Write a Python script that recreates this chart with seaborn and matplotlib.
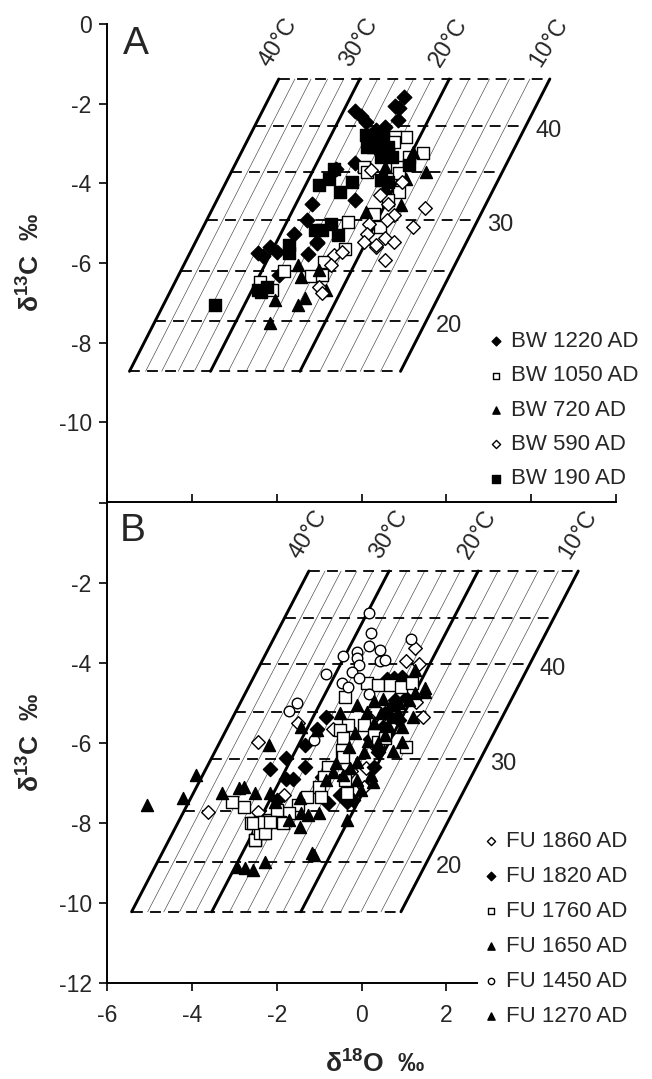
import numpy as np
import pandas as pd
import matplotlib.pyplot as plt
import seaborn as sns

sns.set_style('ticks')
plt.rcParams['font.family'] = ['Liberation Sans', 'DejaVu Sans']
plt.rcParams['axes.unicode_minus'] = False
plt.rcParams['mathtext.fontset'] = 'custom'
plt.rcParams['mathtext.rm'] = 'Liberation Sans'
plt.rcParams['mathtext.bf'] = 'Liberation Sans:bold'

temps = ['40°C', '30°C', '20°C', '10°C']
level_labels = ['40', '30', '20']

# ---- panel A grid ----
a_top_y, a_bot_y = -1.38, -8.72
a_shift = -3.52
a_iso_top = [-1.95, -0.04, 2.07, 4.44]
a_thin_top = [-1.57, -1.19, -0.80, -0.42, 0.38, 0.80, 1.23, 1.65, 2.54, 3.02, 3.49, 3.97]
a_levels = [-1.38, -2.56, -3.72, -4.92, -6.20, -7.46, -8.72]
a_label_idx = [1, 3, 5]

# ---- panel B grid ----
b_top_y, b_bot_y = -1.70, -10.22
b_shift = -4.18
b_iso_top = [-1.24, 0.65, 2.75, 5.11]
b_thin_top = [-0.86, -0.48, -0.11, 0.27, 1.07, 1.49, 1.91, 2.33, 3.22, 3.69, 4.17, 4.64]
b_levels = [-1.70, -2.87, -4.03, -5.23, -6.40, -7.70, -8.97, -10.22]
b_label_idx = [2, 4, 6]

# ---- panel A data ----
bw1220_x = [1.0, 0.78, 0.89, -0.15, -0.02, 0.1, 0.86, 0.55, -0.15, -0.6, -0.15, -1.17, -1.29, -1.6,
            -1.05, -2.44, -2.32, -2.15, -1.99, -1.25, -1.05, -1.95, 0.35]
bw1220_y = [-1.83, -2.06, -2.12, -2.18, -2.31, -2.45, -2.41, -2.58, -3.5, -3.63, -4.42, -4.51, -4.93, -5.26,
            -5.47, -5.76, -5.83, -5.61, -5.72, -5.78, -5.51, -6.31, -2.65]
bw1050_x = [1.04, 0.8, 0.76, 1.45, 1.12, 0.84, 0.88, 0.88, 0.06, 0.26, 0.14, -0.31, 0.63, 0.3, 0.43, 0.22,
            -0.39, -0.88, -1.82, -1.2, -0.92, -2.4, -2.11]
bw1050_y = [-2.83, -2.83, -2.96, -3.25, -3.33, -3.58, -3.75, -4.21, -3.58, -3.08, -3.71, -4.97, -4.42, -4.76,
            -5.09, -2.83, -5.66, -5.97, -6.21, -6.33, -6.31, -6.47, -6.67]
bw720_x = [1.21, 0.55, 1.53, 0.92, 0.1, 0.47, 1.04, 0.55, -1.5, -1.42, -2.03, -1.5, -1.33, -2.15, -1.01, -0.84]
bw720_y = [-3.21, -3.58, -3.71, -4.55, -4.71, -3.92, -3.88, -4.09, -6.05, -6.35, -6.92, -7.06, -6.89, -7.5,
           -6.18, -6.68]
bw590_x = [0.22, 0.96, 1.49, 1.21, 0.63, 0.76, 0.59, 0.18, 0.14, 0.55, 0.76, 0.35, 0.43, -0.64, -0.47, -0.72,
           -1.01, -0.92, 0.35, 0.55, 0.06]
bw590_y = [-3.67, -3.96, -4.63, -5.09, -4.51, -4.8, -4.93, -5.01, -5.26, -5.36, -5.47, -5.59, -4.3, -5.8,
           -5.72, -6.05, -6.6, -6.75, -5.55, -5.93, -5.47]
bw190_x = [0.1, 0.3, 0.51, 0.14, 0.43, 0.63, 0.47, 0.71, 1.12, -0.64, -0.76, -1.01, -0.51, -0.23, -1.09, -0.92,
           -0.72, -0.55, 0.47, 0.63, -1.7, -1.7, -3.46, -2.44, -2.23, -2.36]
bw190_y = [-2.79, -2.79, -2.87, -3.08, -3.12, -3.08, -3.33, -3.33, -3.54, -3.63, -3.88, -4.05, -4.21, -3.96,
           -5.18, -5.18, -5.01, -5.3, -3.92, -3.96, -5.55, -5.76, -7.06, -6.68, -6.6, -6.73]

# ---- panel B data ----
fu1860_x = [1.25, 1.04, 1.35, -2.44, -1.5, -3.63, -2.44, -1.82, -0.68, 1.45, 1.29, 0.22, 0.1, 0.75, 0.35,
            -0.25, 0.05]
fu1860_y = [-3.63, -3.94, -4.03, -5.97, -5.49, -7.72, -7.72, -7.3, -5.66, -5.34, -4.97, -5.43, -6.63, -5.1,
            -6.1, -6.7, -7.1]
fu1820_x = [0.96, 0.59, 0.76, -0.84, -1.05, -1.33, -1.78, -1.33, -2.15, -1.78, -1.62, -1.99, -0.92, -0.51,
            -0.8, -0.35, -0.19, 0.39, 0.63, 0.88, 0.55, 0.8, 1.04, 0.2, 0.5, 0.3]
fu1820_y = [-4.34, -4.41, -4.38, -5.34, -5.66, -6.05, -6.38, -6.61, -6.66, -6.91, -6.91, -7.43, -6.84, -7.3,
            -7.51, -7.47, -7.43, -6.22, -5.76, -5.43, -5.26, -4.93, -4.88, -5.9, -5.6, -6.6]
fu1760_x = [0.14, 0.39, 0.67, 0.92, 1.2, -0.39, -0.31, -0.51, -0.43, -0.47, -0.43, -0.8, -0.88, -1.01, -0.96,
            -1.29, -1.5, -1.7, -1.91, -2.19, -2.4, -2.6, -2.44, -2.32, -2.52, -1.99, -2.77, -3.05, 1.04, 0.06,
            0.3, 0.39, 0.55, -0.39, -0.35, -2.51, -2.39, -2.27, -2.55, -2.31, -2.16, -1.84]
fu1760_y = [-4.51, -4.55, -4.55, -4.59, -4.51, -4.84, -5.55, -5.68, -5.88, -6.17, -6.34, -6.59, -6.84, -7.09,
            -7.34, -7.34, -7.55, -7.76, -7.97, -7.93, -7.97, -8.01, -8.22, -8.26, -8.43, -7.68, -7.59, -7.47,
            -6.09, -5.55, -5.8, -5.97, -5.88, -6.93, -7.26, -8.42, -8.26, -8.26, -8.01, -7.97, -7.97, -8.01]
fu1650_x = [-5.06, -4.2, -3.91, -3.3, -2.89, -2.77, -2.52, -2.19, -2.15, -2.03, -1.46, -1.7, -1.42, -1.25,
            -1.46, -1.01, -1.17, -0.35, -2.94, -2.75, -2.55, -2.27, -1.13, -0.84, -0.43]
fu1650_y = [-7.55, -7.38, -6.8, -7.26, -7.13, -7.09, -7.26, -6.05, -7.26, -7.47, -7.38, -7.93, -7.76, -7.8,
            -8.09, -7.76, -8.76, -7.93, -9.09, -9.13, -9.18, -8.97, -8.8, -6.93, -6.8]
fu1450_x = [0.18, 0.22, 0.18, 0.43, -0.1, -0.43, -0.1, 0.43, 0.55, -0.06, -0.23, -0.06, -0.84, -0.47, -0.31,
            1.16, -1.7, -1.51, -1.13, 0.18]
fu1450_y = [-2.76, -3.26, -3.58, -3.68, -3.72, -3.82, -3.88, -3.95, -3.93, -4.05, -4.22, -4.38, -4.28, -4.49,
            -4.59, -3.41, -5.19, -4.99, -5.93, -4.78]
fu1270_x = [-1.42, -1.05, -0.11, -0.51, -0.15, 0.14, 0.3, 0.47, 0.71, 0.88, 1.12, 1.25, 1.49, 1.21, 0.96, 0.96,
            0.63, 0.39, 0.06, -0.11, -0.27, -0.6, -0.68, -0.11, 0.22, 0.26, -0.02, 1.25, 1.49, 0.5, 0.7, 0.3,
            0.85, 0.55, 0.15, -0.3, 0.75]
fu1270_y = [-5.59, -5.68, -5.05, -5.26, -5.76, -5.22, -5.51, -5.26, -5.34, -5.01, -4.93, -4.76, -4.72, -5.34,
            -5.97, -5.59, -5.55, -6.01, -6.22, -6.47, -6.63, -6.51, -6.72, -6.93, -6.8, -6.97, -7.18, -4.18,
            -4.63, -4.9, -5.05, -4.95, -5.25, -5.8, -5.95, -6.1, -6.2]

series_a = [
    ('BW 1220 AD', bw1220_x, bw1220_y, 'D', 'black', 55),
    ('BW 1050 AD', bw1050_x, bw1050_y, 's', 'white', 65),
    ('BW 720 AD', bw720_x, bw720_y, '^', 'black', 75),
    ('BW 590 AD', bw590_x, bw590_y, 'D', 'white', 48),
    ('BW 190 AD', bw190_x, bw190_y, 's', 'black', 72),
]
series_b = [
    ('FU 1860 AD', fu1860_x, fu1860_y, 'D', 'white', 48),
    ('FU 1820 AD', fu1820_x, fu1820_y, 'D', 'black', 52),
    ('FU 1760 AD', fu1760_x, fu1760_y, 's', 'white', 65),
    ('FU 1650 AD', fu1650_x, fu1650_y, '^', 'black', 75),
    ('FU 1450 AD', fu1450_x, fu1450_y, 'o', 'white', 58),
    ('FU 1270 AD', fu1270_x, fu1270_y, '^', 'black', 75),
]


def draw_grid(ax, iso_top, thin_top, top_y, bot_y, shift, levels, label_idx):
    for x0 in thin_top:
        ax.plot([x0, x0 + shift], [top_y, bot_y], color='#444444', lw=0.45, zorder=1)
    for y in levels:
        f = (y - top_y) / (bot_y - top_y)
        ax.plot([iso_top[0] + f * shift, iso_top[-1] + f * shift], [y, y], color='black',
                lw=1.3, dashes=(6, 4), zorder=2)
    for x0, t in zip(iso_top, temps):
        ax.plot([x0, x0 + shift], [top_y, bot_y], color='black', lw=2.1, zorder=3)
        ax.text(x0 - 0.12, top_y + 0.2, t, rotation=58, rotation_mode='anchor',
                ha='left', va='bottom', fontsize=17)
    for i, lab in zip(label_idx, level_labels):
        y = levels[i]
        f = (y - top_y) / (bot_y - top_y)
        ax.text(iso_top[-1] + f * shift + 0.22, y - 0.12, lab, ha='left', va='center', fontsize=17)


def draw_points(ax, series):
    for label, xs, ys, marker, face, size in series:
        df = pd.DataFrame({'d18O': xs, 'd13C': ys})
        sns.scatterplot(data=df, x='d18O', y='d13C', marker=marker, s=size, facecolor=face,
                        edgecolor='black', linewidth=1.0, label=label, ax=ax, zorder=4)


fig = plt.figure(figsize=(6.52, 10.79), dpi=100)
W, H = 652, 1079
ax1 = fig.add_axes([107 / W, 1 - 502 / H, 509 / W, 478 / H])
ax2 = fig.add_axes([107 / W, 1 - 983 / H, 509 / W, 480 / H])

draw_grid(ax1, a_iso_top, a_thin_top, a_top_y, a_bot_y, a_shift, a_levels, a_label_idx)
draw_grid(ax2, b_iso_top, b_thin_top, b_top_y, b_bot_y, b_shift, b_levels, b_label_idx)
draw_points(ax1, series_a)
draw_points(ax2, series_b)

for ax in (ax1, ax2):
    ax.set_xlim(-6, 6)
    ax.set_ylim(-12, 0)
    ax.set_xlabel('')
    ax.set_ylabel('')
    for s in ('top', 'right'):
        ax.spines[s].set_visible(False)
    for s in ('left', 'bottom'):
        ax.spines[s].set_linewidth(1.4)
        ax.spines[s].set_color('black')

# panel A axes
ax1.set_yticks([0, -2, -4, -6, -8, -10])
ax1.set_yticklabels(['0', '-2', '-4', '-6', '-8', '-10'])
ax1.set_xticks([-6, -4, -2, 0, 2, 4, 6])
ax1.tick_params(axis='x', direction='in', length=6, width=1.4, labelbottom=False)
ax1.tick_params(axis='y', direction='out', length=6, width=1.4, labelsize=16.5, pad=5)

# panel B axes
ax2.set_yticks([0, -2, -4, -6, -8, -10, -12])
ax2.set_yticklabels(['', '-2', '-4', '-6', '-8', '-10', '-12'])
ax2.set_xticks([-6, -4, -2, 0, 2])
ax2.set_xticklabels(['-6', '-4', '-2', '0', '2'])
ax2.spines['bottom'].set_bounds(-6, 2.73)
ax2.tick_params(axis='x', direction='out', length=6, width=1.4, labelsize=16.5, pad=9)
ax2.tick_params(axis='y', direction='out', length=6, width=1.4, labelsize=16.5, pad=5)

ax1.text(-5.62, -0.05, 'A', fontsize=28, ha='left', va='top')
ax2.text(-5.69, -0.25, 'B', fontsize=28, ha='left', va='top')

ax1.legend(loc='upper left', bbox_to_anchor=(487 / W, 1 - 331 / H), bbox_transform=fig.transFigure,
           frameon=False, fontsize=16, markerscale=0.6, handletextpad=0.3, handlelength=0.8,
           labelspacing=0.6, borderaxespad=0, borderpad=0)
ax2.legend(loc='upper left', bbox_to_anchor=(482 / W, 1 - 831 / H), bbox_transform=fig.transFigure,
           frameon=False, fontsize=16, markerscale=0.6, handletextpad=0.3, handlelength=0.8,
           labelspacing=0.63, borderaxespad=0, borderpad=0)

ylab = 'δ$^{\\mathbf{13}}$C  ‰'
fig.text(30 / W, 1 - 263 / H, ylab, rotation=90, ha='center', va='center', fontsize=19, fontweight='bold')
fig.text(30 / W, 1 - 743 / H, ylab, rotation=90, ha='center', va='center', fontsize=19, fontweight='bold')
fig.text(375 / W, 1 - 1063 / H, 'δ$^{\\mathbf{18}}$O  ‰', ha='center', va='center', fontsize=19,
         fontweight='bold')

fig.savefig('out.png', dpi=100)
